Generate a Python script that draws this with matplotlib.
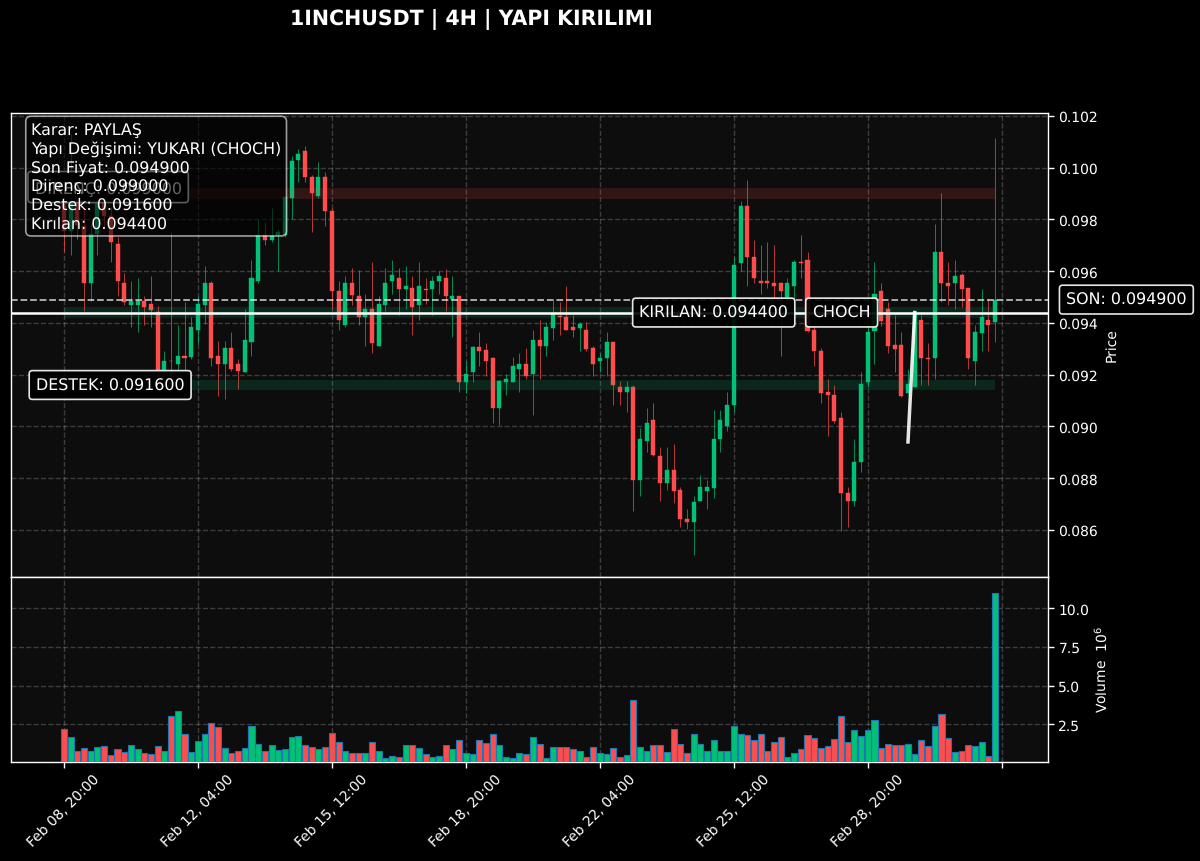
"""1INCHUSDT 4H candles with structure levels and volume."""

import matplotlib

matplotlib.use("Agg")
import matplotlib.pyplot as plt
import numpy as np

TITLE = "1INCHUSDT | 4H | YAPI KIRILIMI"
TICK_LABELS = [
    "Feb 08, 20:00", "Feb 12, 04:00", "Feb 15, 12:00", "Feb 18, 20:00",
    "Feb 22, 04:00", "Feb 25, 12:00", "Feb 28, 20:00", "",
]
TICK_STEP = 20

# prices in units of 1e-5 USDT
OPENS = [
    9860, 9755, 9887, 9776, 9554, 9743, 9867, 9814, 9705, 9554,
    9470, 9470, 9484, 9473, 9442, 9210, 9254, 9241, 9273, 9270,
    9372, 9470, 9554, 9273, 9241, 9304, 9241, 9212, 9325, 9561,
    9740, 9721, 9740, 9740, 9883, 10031, 10063, 9965, 9889, 9965,
    9834, 9522, 9391, 9554, 9503, 9421, 9453, 9311, 9470, 9562,
    9574, 9531, 9533, 9470, 9532, 9531, 9562, 9573, 9492, 9503,
    9172, 9211, 9305, 9294, 9264, 9072, 9172, 9172, 9221, 9242,
    9201, 9333, 9311, 9381, 9428, 9424, 9384, 9381, 9372, 9304,
    9252, 9263, 9325, 9154, 9133, 9154, 8792, 8942, 9024, 8884,
    8783, 8833, 8753, 8642, 8632, 8712, 8752, 8761, 8951, 9002,
    9083, 9631, 9853, 9653, 9563, 9563, 9554, 9554, 9501, 9543,
    9635, 9643, 9372, 9292, 9133, 9122, 9034, 8744, 8712, 8862,
    9172, 9369, 9522, 9453, 9314, 9314, 9131, 9153, 9412, 9264,
    9263, 9675, 9554, 9553, 9585, 9533, 9251, 9362, 9412, 9402,
]
HIGHS = [
    9918, 10130, 9937, 9840, 9782, 9898, 9918, 9848, 9732, 9593,
    9563, 9573, 9505, 9582, 9466, 9292, 9750, 9391, 9482, 9422,
    9505, 9621, 9562, 9331, 9331, 9364, 9260, 9453, 9643, 9801,
    9791, 9844, 9763, 9890, 10046, 10072, 10083, 9972, 10023, 9982,
    9843, 9562, 9582, 9612, 9604, 9511, 9634, 9503, 9612, 9643,
    9612, 9621, 9582, 9634, 9573, 9582, 9602, 9608, 9582, 9504,
    9253, 9311, 9363, 9322, 9270, 9180, 9201, 9270, 9283, 9303,
    9372, 9411, 9404, 9489, 9482, 9541, 9431, 9404, 9404, 9311,
    9283, 9363, 9325, 9174, 9174, 9159, 8992, 9073, 9092, 8922,
    8922, 8931, 8764, 8682, 8731, 8811, 8792, 9063, 9063, 9132,
    9653, 9872, 9952, 9720, 9701, 9711, 9701, 9558, 9573, 9643,
    9741, 9673, 9391, 9303, 9183, 9161, 9054, 8764, 8951, 9212,
    9395, 9634, 9553, 9482, 9431, 9363, 9221, 9444, 9431, 9322,
    9782, 9902, 9634, 9643, 9591, 9533, 9391, 9531, 9492, 10114,
]
LOWS = [
    9674, 9662, 9724, 9447, 9485, 9662, 9771, 9635, 9505, 9470,
    9384, 9364, 9391, 9384, 9190, 9190, 9137, 9210, 9215, 9260,
    9318, 9395, 9234, 9117, 9105, 9215, 9144, 9210, 9273, 9554,
    9701, 9714, 9602, 9732, 9801, 9943, 9943, 9752, 9883, 9773,
    9453, 9372, 9383, 9470, 9393, 9311, 9283, 9311, 9447, 9511,
    9431, 9453, 9353, 9412, 9473, 9431, 9511, 9447, 9344, 9133,
    9128, 9172, 9234, 9193, 9012, 9005, 9121, 9172, 9133, 9183,
    9043, 9183, 9273, 9332, 9353, 9371, 9344, 9292, 9292, 9193,
    9211, 9193, 9082, 9082, 9054, 8673, 8731, 8901, 8884, 8712,
    8753, 8703, 8613, 8602, 8503, 8712, 8682, 8722, 8901, 8983,
    9054, 9602, 9543, 9554, 9511, 9533, 9492, 9273, 9492, 9492,
    9573, 9363, 9234, 9092, 8963, 9015, 8594, 8613, 8693, 8824,
    9151, 9241, 9389, 9283, 9212, 9112, 9131, 9153, 9159, 9159,
    9183, 9482, 9470, 9453, 9462, 9221, 9161, 9292, 9292, 9325,
]
CLOSES = [
    9755, 9887, 9778, 9553, 9743, 9867, 9814, 9713, 9562, 9479,
    9484, 9484, 9461, 9451, 9214, 9253, 9251, 9273, 9263, 9383,
    9473, 9554, 9263, 9241, 9304, 9221, 9214, 9333, 9573, 9740,
    9721, 9735, 9752, 9887, 10025, 10053, 9963, 9902, 9965, 9831,
    9522, 9412, 9555, 9509, 9421, 9453, 9322, 9473, 9554, 9585,
    9531, 9543, 9462, 9543, 9528, 9563, 9582, 9503, 9503, 9172,
    9202, 9305, 9291, 9252, 9072, 9174, 9183, 9233, 9242, 9193,
    9333, 9311, 9384, 9433, 9424, 9371, 9371, 9394, 9301, 9241,
    9264, 9325, 9159, 9133, 9154, 8792, 8953, 9015, 8890, 8783,
    8832, 8752, 8641, 8632, 8706, 8764, 8764, 8953, 9024, 9083,
    9624, 9853, 9653, 9573, 9553, 9553, 9543, 9522, 9554, 9634,
    9631, 9369, 9292, 9131, 9122, 9019, 8744, 8712, 8864, 9163,
    9363, 9511, 9408, 9311, 9301, 9118, 9163, 9442, 9263, 9260,
    9675, 9553, 9541, 9582, 9531, 9263, 9363, 9424, 9391, 9490,
]
# volume in millions
VOLUMES = [
    2.22, 1.69, 0.75, 0.94, 0.79, 1.01, 1.07, 0.49, 0.88, 0.69,
    1.18, 0.88, 0.64, 0.56, 1.09, 0.77, 3.04, 3.34, 1.86, 0.69,
    1.41, 1.90, 2.57, 2.31, 0.94, 0.64, 0.81, 0.94, 2.40, 1.20,
    0.81, 1.14, 0.84, 0.88, 1.71, 1.76, 1.16, 1.01, 0.88, 1.01,
    1.97, 1.33, 0.75, 0.64, 0.64, 0.64, 1.39, 0.75, 0.32, 0.43,
    0.39, 1.14, 1.18, 0.99, 0.56, 0.37, 0.43, 1.18, 0.88, 1.50,
    0.67, 0.58, 1.46, 1.29, 1.90, 1.16, 0.39, 0.35, 0.64, 0.56,
    1.71, 1.24, 0.32, 1.05, 1.05, 1.05, 0.88, 0.77, 0.37, 1.05,
    0.62, 0.58, 0.99, 0.41, 0.49, 4.06, 1.01, 0.81, 1.14, 1.14,
    0.73, 2.18, 1.20, 0.64, 1.90, 1.20, 0.75, 1.46, 0.75, 0.75,
    2.40, 1.90, 1.78, 1.52, 1.90, 0.79, 1.35, 1.71, 0.39, 0.62,
    0.88, 1.78, 1.63, 0.96, 1.09, 1.58, 3.04, 1.35, 2.16, 1.76,
    2.16, 2.78, 0.96, 1.24, 1.14, 1.14, 1.20, 0.60, 1.50, 1.11,
    2.38, 3.14, 1.63, 0.71, 0.75, 1.16, 1.11, 1.39, 0.45, 11.0,
]

RESISTANCE = 0.0990
SUPPORT = 0.0916
BROKEN = 0.0944
LAST_PRICE = 0.0949
ZONE_HALF = 0.0002
RESISTANCE_LABEL_Y = 0.09925
CHOCH_X = [126, 127]
CHOCH_Y = [0.0894, 0.0944]

INFO_TEXT = (
    "Karar: PAYLAŞ\n"
    "Yapı Değişimi: YUKARI (CHOCH)\n"
    "Son Fiyat: 0.094900\n"
    "Direnç: 0.099000\n"
    "Destek: 0.091600\n"
    "Kırılan: 0.094400"
)

UP = "#00c176"
DOWN = "#ff4d4d"
PANEL = "#0d0d0d"
W, H = 1200, 862
LABEL_SIZE = 11.4

plt.rcParams["text.hinting"] = "none"


def label_box(ax, x, y, text, zorder=8):
    ax.text(
        x, y, text, color="white", fontsize=LABEL_SIZE, ha="center", va="center",
        zorder=zorder, clip_on=False,
        bbox=dict(boxstyle="round,pad=0.42,rounding_size=0.2", fc="black", ec="white", lw=1.2, alpha=0.9),
    )


def style_axes(ax):
    ax.set_facecolor(PANEL)
    ax.grid(True, color="white", alpha=0.2, linestyle="--", linewidth=1.0)
    ax.set_axisbelow(True)
    ax.yaxis.tick_right()
    ax.yaxis.set_label_position("right")
    ax.tick_params(colors="white", labelsize=10, width=1.0, length=4)
    for spine in ax.spines.values():
        spine.set_color("white")
        spine.set_linewidth(1.0)


def main() -> None:
    opens = np.array(OPENS) / 1e5
    highs = np.array(HIGHS) / 1e5
    lows = np.array(LOWS) / 1e5
    closes = np.array(CLOSES) / 1e5
    x = np.arange(len(opens))
    rising = closes >= opens
    colors = np.where(rising, UP, DOWN)

    fig = plt.figure(figsize=(W / 100, H / 100), dpi=100, facecolor="black")
    ax = fig.add_axes([11 / W, 1 - 577.5 / H, 1037 / W, 464 / H])
    vol = fig.add_axes([11 / W, 1 - 762.5 / H, 1037 / W, 185 / H], sharex=ax)
    style_axes(ax)
    style_axes(vol)

    ax.vlines(x, lows, highs, colors=colors, linewidth=0.7, alpha=0.7, zorder=3)
    ax.bar(
        x, closes - opens, bottom=opens, width=0.6, color=colors,
        edgecolor=colors, linewidth=0.3, zorder=4,
    )

    for level, zone_color in [(RESISTANCE, DOWN), (BROKEN, UP), (SUPPORT, UP)]:
        ax.fill_between(
            [x[0], x[-1]], level - ZONE_HALF, level + ZONE_HALF,
            color=zone_color, alpha=0.15, linewidth=0, zorder=5,
        )
    ax.axhline(LAST_PRICE, color="white", alpha=0.7, linestyle="--", linewidth=1.3, zorder=5)
    ax.axhline(BROKEN, color="white", linewidth=1.8, zorder=6)
    ax.plot(CHOCH_X, CHOCH_Y, color="white", alpha=0.9, linewidth=2.5, zorder=6)

    label_box(ax, 6.6, RESISTANCE_LABEL_Y, f"DİRENÇ: {RESISTANCE:.6f}", zorder=6)
    label_box(ax, 6.9, SUPPORT, f"DESTEK: {SUPPORT:.6f}")
    label_box(ax, 97, BROKEN, f"KIRILAN: {BROKEN:.6f}")
    label_box(ax, 116.1, BROKEN, "CHOCH")
    label_box(ax, 158.6, LAST_PRICE, f"SON: {LAST_PRICE:.6f}")

    ax.text(
        20 / 1037, 1 - 9 / 464, INFO_TEXT, transform=ax.transAxes, color="white",
        fontsize=LABEL_SIZE, va="top", ha="left", zorder=9, linespacing=1.26,
        bbox=dict(boxstyle="round,pad=0.33", fc="black", ec="white", lw=1.2, alpha=0.6),
    )

    ax.set_ylim(0.08420, 0.10213)
    ax.set_yticks(np.arange(0.086, 0.1021, 0.002))
    ax.set_yticklabels([f"{t:.3f}" for t in np.arange(0.086, 0.1021, 0.002)])
    ax.set_ylabel("Price", color="white", fontsize=10)
    ax.yaxis.set_label_coords(1.055, 0.5)
    ax.tick_params(axis="x", length=0, labelbottom=False)

    vol.bar(x, VOLUMES, width=0.9, color=colors, edgecolor="#1f77b4", linewidth=0.8, zorder=3)
    vol.set_ylim(0.1, 12.05)
    vol.set_yticks([2.5, 5.0, 7.5, 10.0])
    vol.set_ylabel("Volume  $10^{6}$", color="white", fontsize=10)
    vol.yaxis.set_label_coords(1.044, 0.5)

    ticks = [i * TICK_STEP for i in range(len(TICK_LABELS))]
    vol.set_xticks(ticks)
    vol.set_xticklabels(TICK_LABELS, rotation=45, ha="center")
    vol.set_xlim(-7.9, 146.9)

    fig.text(471.5 / W, 1 - 20 / H, TITLE, color="white", fontsize=14.8, fontweight="bold",
             ha="center", va="center")

    fig.savefig("out.png", dpi=100, facecolor="black")


if __name__ == "__main__":
    main()
